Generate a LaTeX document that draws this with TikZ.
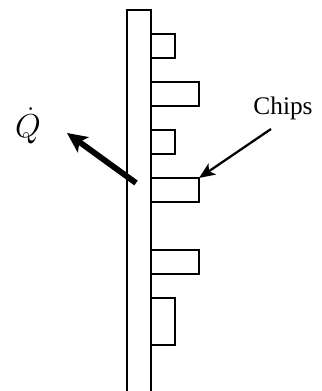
\documentclass[tikz,border=0pt]{standalone}
\usepackage{amsmath}
\usepackage{fontspec}
\setmainfont{Liberation Serif}
\usetikzlibrary{arrows.meta}

\begin{document}
\begin{tikzpicture}[x=0.75pt, y=-0.75pt, every node/.style={font=\fontsize{19}{22}\selectfont}, line width=1.3pt,
	chip/.style={draw, rectangle, anchor=north west, inner sep=0pt, outer sep=0pt, minimum width=#1*0.75pt},
	short/.style={chip=24, minimum height=18pt},
	long/.style={chip=48, minimum height=18pt}]
	\useasboundingbox (0,0) rectangle (321,391);
	\draw (127,391) -- (127,10) -- (151,10) -- (151,391);
	\node[short] (chipa) at (151,34) {};
	\node[long] (chipb) at (151,82) {};
	\node[short] (chipc) at (151,130) {};
	\node[long] (chipd) at (151,178) {};
	\node[long] (chipe) at (151,250) {};
	\node[chip=24, minimum height=35.25pt] (chipf) at (151,298) {};
	\node (chips) at (283,108) {Chips};
	\node[font=\fontsize{23}{26}\selectfont] (qdot) at (28,126) {$\dot{Q}$};
	\coordinate (chipsfrom) at (271,129);
	\coordinate (heatfrom) at (136,183);
	\coordinate (heatto) at (67,133);
	\draw[-{Stealth[length=12pt, width=10pt, inset=3pt]}, line width=1.7pt] (chipsfrom) -- (chipd.north east);
	\draw[-{Stealth[length=15pt, width=14pt, inset=3.5pt]}, line width=4.4pt] (heatfrom) -- (heatto);
\end{tikzpicture}
\end{document}
